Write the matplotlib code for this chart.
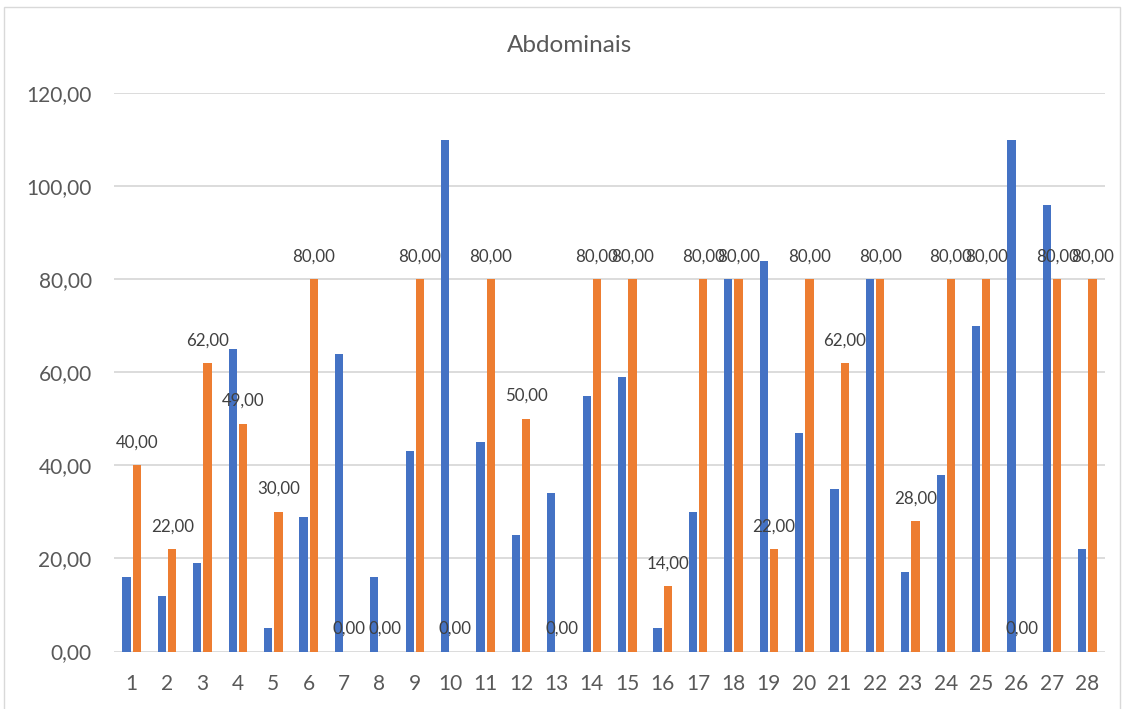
import numpy as np
import matplotlib
matplotlib.use("Agg")
import matplotlib.pyplot as plt
from matplotlib.patches import Rectangle

# data
categories = [str(i) for i in range(1, 29)]
serie_azul = [16, 12, 19, 65, 5, 29, 64, 16, 43, 110, 45, 25, 34, 55,
              59, 5, 30, 80, 84, 47, 35, 80, 17, 38, 70, 110, 96, 22]
serie_laranja = [40, 22, 62, 49, 30, 80, 0, 0, 80, 0, 80, 50, 0, 80,
                 80, 14, 80, 80, 22, 80, 62, 80, 28, 80, 80, 0, 80, 80]
y_ticks = [0, 20, 40, 60, 80, 100, 120]

plt.rcParams['font.family'] = ['Lato', 'DejaVu Sans']
cor_texto = '#595959'

fig = plt.figure(figsize=(11.28, 7.09), dpi=100)
ax = fig.add_axes([0.101, 0.0811, 0.8787, 0.7873])

x = np.arange(1, len(categories) + 1)
w = 0.235
off = 0.145
ax.bar(x - off, serie_azul, width=w, color='#4472C4', zorder=3)
ax.bar(x + off, serie_laranja, width=w, color='#ED7D31', zorder=3)

# labels only on the orange series
for xi, v in zip(x + off, serie_laranja):
    ax.annotate(f'{v:.2f}'.replace('.', ','), (xi, v), xytext=(0, 16.5),
                textcoords='offset points', ha='center', va='center',
                fontsize=12.2, color='#404040', zorder=4)

ax.set_xlim(0.5, len(categories) + 0.5)
ax.set_ylim(0, 120)
ax.set_xticks(x)
ax.set_xticklabels(categories)
ax.set_yticks(y_ticks)
ax.set_yticklabels([f'{t:.2f}'.replace('.', ',') for t in y_ticks])
ax.tick_params(axis='both', length=0, labelsize=15, colors=cor_texto)
ax.tick_params(axis='x', pad=16)
ax.tick_params(axis='y', pad=16)
ax.grid(axis='y', color='#D9D9D9', linewidth=1.3, zorder=0)
ax.set_axisbelow(True)
for s in ax.spines.values():
    s.set_visible(False)

fig.text(0.505, 1 - 46 / 709, 'Abdominais', ha='center', va='center',
         fontsize=17.5, color=cor_texto)

# outer chart border
fig.patches.append(Rectangle((4 / 1128, -0.01), 1116 / 1128, 1 - 7 / 709 + 0.01,
                             transform=fig.transFigure, fill=False,
                             edgecolor='#D9D9D9', linewidth=1))

fig.savefig('out.png', dpi=100)
